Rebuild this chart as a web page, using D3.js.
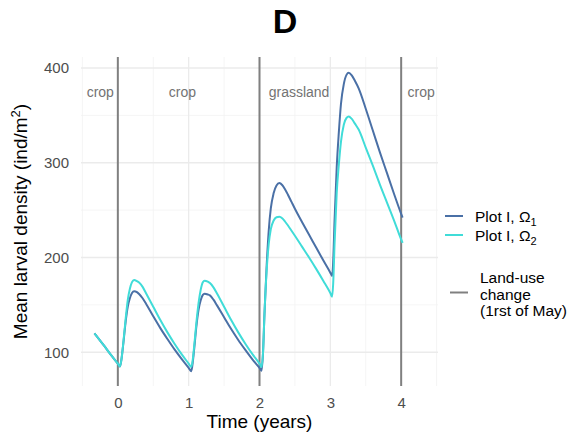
<!DOCTYPE html>
<html>
<head>
<meta charset="utf-8">
<script src="https://cdn.jsdelivr.net/npm/d3@7"></script>
<style>
  html, body { margin: 0; padding: 0; background: #fff; }
  text { font-family: Arial, "Liberation Sans", sans-serif; }
</style>
</head>
<body>
<svg id="chart" width="569" height="434"></svg>
<script>
// ---- data ----
const time = [-0.33, -0.2, -0.1, 0.0, 0.03, 0.05, 0.08, 0.11, 0.14, 0.17, 0.20, 0.23, 0.27, 0.30, 0.35, 0.40, 0.50, 0.60, 0.70, 0.80, 0.90, 1.00, 1.035,
  1.05, 1.08, 1.11, 1.14, 1.17, 1.20, 1.225, 1.27, 1.30, 1.35, 1.40, 1.50, 1.60, 1.70, 1.80, 1.90, 2.00, 2.03,
  2.05, 2.07, 2.10, 2.13, 2.16, 2.20, 2.24, 2.28, 2.32, 2.36, 2.40, 2.45, 2.50, 2.60, 2.70, 2.80, 2.90, 3.00, 3.025,
  3.04, 3.06, 3.09, 3.12, 3.15, 3.19, 3.23, 3.26, 3.30, 3.35, 3.40, 3.50, 3.60, 3.70, 3.80, 3.90, 4.00, 4.02];
const omega1 = [120, 107.5, 97.5, 88, 85, 92, 111, 132, 148, 157, 162.5, 164.5, 163.5, 161.5, 157, 151, 138, 125.5, 114, 103, 93, 83.5, 80,
  85, 105, 128, 145, 155, 160.5, 161.8, 161, 160, 155.5, 149.5, 137, 124.5, 113, 102.5, 92.5, 83.5, 80.5,
  100, 140, 190, 228, 252, 268, 276, 278.5, 276.5, 272, 266.5, 259, 251.5, 237.5, 224, 210.5, 197, 184, 180.6,
  195, 240, 295, 332, 362, 383, 393, 395, 392.5, 386, 378.5, 357, 334, 311, 289, 267, 246, 242];
const omega2 = [120, 107.5, 97.5, 88, 85, 92, 112, 135, 155, 167, 174, 176.3, 175, 173.5, 169, 162, 148, 134, 121, 109, 98, 88, 84.5,
  88, 108, 132, 152, 166, 174, 175.6, 174.5, 173, 168.5, 162, 148, 134, 121, 109, 98, 88, 84.5,
  100, 140, 185, 214, 230, 239, 242.5, 243, 241.5, 238, 234, 228.5, 223, 211.5, 200, 188, 175.5, 162.5, 158.7,
  172, 215, 268, 298, 322, 340, 347.5, 348.8, 346.5, 341, 335, 316, 297, 277, 258, 239, 219, 215.5];
const landUseTimes = [0, 2, 4];
const landUseLabels = ["crop", "crop", "grassland", "crop"];
const labelTimes = [-0.44, 0.72, 2.13, 4.09];
const xTicks = [0, 1, 2, 3, 4];
const yTicks = [100, 200, 300, 400];
const xMinor = [-0.5, 0.5, 1.5, 2.5, 3.5, 4.5];
const yMinor = [150, 250, 350];
const seriesNames = ["Plot I, \u03A9", "Plot I, \u03A9"];
const seriesSubs = ["1", "2"];
const colors = ["#4A70A6", "#40DCD8"];

// ---- layout ----
const svg = d3.select("#chart");
const panel = { left: 81, right: 438, top: 57, bottom: 386 };
const x = d3.scaleLinear().domain([-0.52, 4.52]).range([panel.left, panel.right]);
const y = d3.scaleLinear().domain([64.4, 411.6]).range([panel.bottom, panel.top]);

// grid
const g = svg.append("g");
g.selectAll(".xminor").data(xMinor).enter().append("line")
  .attr("x1", d => x(d)).attr("x2", d => x(d)).attr("y1", panel.top).attr("y2", panel.bottom)
  .attr("stroke", "#f2f2f2").attr("stroke-width", 0.8);
g.selectAll(".yminor").data(yMinor).enter().append("line")
  .attr("x1", panel.left).attr("x2", panel.right).attr("y1", d => y(d)).attr("y2", d => y(d))
  .attr("stroke", "#f2f2f2").attr("stroke-width", 0.8);
g.selectAll(".xmajor").data(xTicks).enter().append("line")
  .attr("x1", d => x(d)).attr("x2", d => x(d)).attr("y1", panel.top).attr("y2", panel.bottom)
  .attr("stroke", "#ebebeb").attr("stroke-width", 1.3);
g.selectAll(".ymajor").data(yTicks).enter().append("line")
  .attr("x1", panel.left).attr("x2", panel.right).attr("y1", d => y(d)).attr("y2", d => y(d))
  .attr("stroke", "#ebebeb").attr("stroke-width", 1.3);

// axes via d3 axis generators (no domain/ticks lines)
const xAxis = svg.append("g").attr("transform", `translate(0,${panel.bottom})`)
  .call(d3.axisBottom(x).tickValues(xTicks).tickSize(0).tickPadding(11).tickFormat(d3.format("d")));
xAxis.select(".domain").remove();
xAxis.selectAll("text").attr("font-size", 15).attr("fill", "#4d4d4d").attr("font-family", "Arial, 'Liberation Sans', sans-serif");

const yAxis = svg.append("g").attr("transform", `translate(${panel.left},0)`)
  .call(d3.axisLeft(y).tickValues(yTicks).tickSize(0).tickPadding(12).tickFormat(d3.format("d")));
yAxis.select(".domain").remove();
yAxis.selectAll("text").attr("font-size", 15).attr("fill", "#4d4d4d").attr("font-family", "Arial, 'Liberation Sans', sans-serif");

// land-use lines
svg.selectAll(".landuse").data(landUseTimes).enter().append("line")
  .attr("x1", d => x(d)).attr("x2", d => x(d)).attr("y1", panel.top).attr("y2", panel.bottom)
  .attr("stroke", "#808080").attr("stroke-width", 2);

// labels
svg.selectAll(".lulabel").data(landUseLabels).enter().append("text")
  .attr("x", (d, i) => x(labelTimes[i])).attr("y", 97)
  .attr("font-size", 14).attr("fill", "#737373").text(d => d);

// curves
const line = d3.line().curve(d3.curveMonotoneX).x((d, i) => x(time[i])).y(d => y(d));
[omega1, omega2].forEach((s, k) => {
  svg.append("path").attr("d", line(s)).attr("fill", "none")
    .attr("stroke", colors[k]).attr("stroke-width", 2).attr("stroke-linejoin", "round");
});

// title
svg.append("text").attr("x", 285).attr("y", 33).attr("text-anchor", "middle")
  .attr("font-size", 34).attr("font-weight", "bold").attr("fill", "#000").text("D");

// axis titles
svg.append("text").attr("x", (panel.left + panel.right) / 2).attr("y", 428)
  .attr("text-anchor", "middle").attr("font-size", 19).attr("fill", "#000").text("Time (years)");
const yt = svg.append("text").attr("transform", `translate(27,${(panel.top + panel.bottom) / 2}) rotate(-90)`)
  .attr("text-anchor", "middle").attr("font-size", 19).attr("fill", "#000");
yt.append("tspan").text("Mean larval density (ind/m");
yt.append("tspan").attr("dy", -7).attr("font-size", 13).text("2");
yt.append("tspan").attr("dy", 7).text(")");

// legend 1
const legY = [216, 235];
seriesNames.forEach((n, i) => {
  svg.append("line").attr("x1", 445).attr("x2", 463).attr("y1", legY[i]).attr("y2", legY[i])
    .attr("stroke", colors[i]).attr("stroke-width", 2);
  const t = svg.append("text").attr("x", 475).attr("y", legY[i] + 5.5).attr("font-size", 15.5).attr("fill", "#000");
  t.append("tspan").text(n);
  t.append("tspan").attr("dy", 4).attr("font-size", 11).text(seriesSubs[i]);
});

// legend 2
svg.append("line").attr("x1", 450).attr("x2", 468).attr("y1", 292.5).attr("y2", 292.5)
  .attr("stroke", "#808080").attr("stroke-width", 2);
const lu = ["Land-use", "change", "(1rst of May)"];
svg.selectAll(".lutext").data(lu).enter().append("text")
  .attr("x", 480).attr("y", (d, i) => 283 + i * 16.5).attr("font-size", 15.5).attr("fill", "#000").text(d => d);
</script>
</body>
</html>
